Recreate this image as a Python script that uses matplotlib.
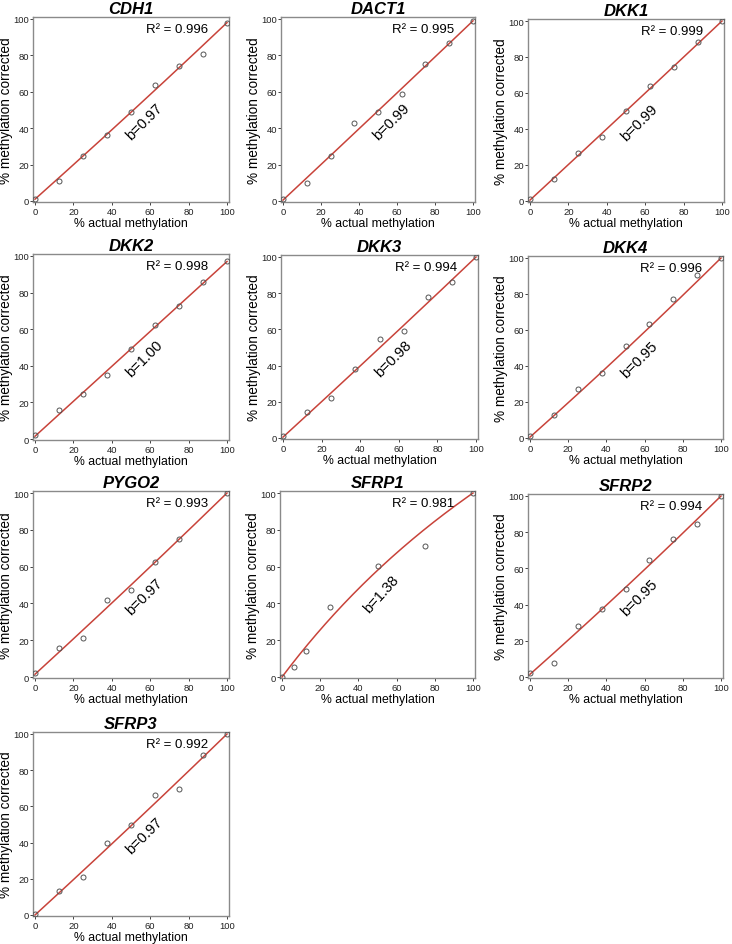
import numpy as np
import matplotlib
matplotlib.use("Agg")
import matplotlib.pyplot as plt

plt.rcParams['font.family'] = ['Liberation Sans', 'DejaVu Sans']

genes = ["CDH1", "DACT1", "DKK1", "DKK2", "DKK3", "DKK4", "PYGO2", "SFRP1", "SFRP2", "SFRP3"]
x_std = [0, 12.5, 25, 37.5, 50, 62.5, 75, 87.5, 100]
x_pygo2 = [0, 12.5, 25, 37.5, 50, 62.5, 75, 100]
x_sfrp1 = [0, 6.25, 12.5, 25, 50, 75, 100]

cdh1 = [1, 11, 25, 36, 49, 64, 74, 81, 98]
dact1 = [1, 10, 24.5, 43, 49, 59, 75.5, 87, 99]
dkk1 = [1, 12.5, 26.5, 35.5, 50, 64, 74.5, 88.5, 100]
dkk2 = [2, 16, 24.5, 35, 49, 62.5, 72.5, 86, 97]
dkk3 = [1, 14.5, 22, 38, 54.5, 59, 78, 86, 100]
dkk4 = [1, 13, 27, 36, 51, 63.5, 77.5, 90.5, 100]
pygo2 = [2, 16, 21, 42, 47.5, 62.5, 75, 100]
sfrp1 = [0, 5.5, 14, 38, 60.5, 71, 100]
sfrp2 = [2, 8, 28, 37.5, 48.5, 64.5, 76.5, 84.5, 100]
sfrp3 = [0.5, 13, 21, 40, 50, 66.5, 69.5, 88.5, 100]

xs = [x_std, x_std, x_std, x_std, x_std, x_std, x_pygo2, x_sfrp1, x_std, x_std]
ys = [cdh1, dact1, dkk1, dkk2, dkk3, dkk4, pygo2, sfrp1, sfrp2, sfrp3]

r2 = ["0.996", "0.995", "0.999", "0.998", "0.994", "0.996", "0.993", "0.981", "0.994", "0.992"]
b_vals = [0.97, 0.99, 0.99, 1.00, 0.98, 0.95, 0.97, 1.38, 0.95, 0.97]
b_text = ["0.97", "0.99", "0.99", "1.00", "0.98", "0.95", "0.97", "1.38", "0.95", "0.97"]
line_y0 = [1, 0.5, 0.5, 1.5, 0.5, 0.5, 1.5, 0, 1.5, 0]
line_y100 = [98, 99, 100, 97, 100, 100, 100, 100, 100, 100]

# pixel boxes of data range (x0, x100, y100, y0)
boxes = [
    (35, 227, 20, 202), (283, 473, 20, 202), (530, 722, 22, 202),
    (35, 227, 257, 440), (283, 476, 258, 439), (530, 721, 259, 439),
    (35, 227, 494, 678), (282, 473, 494, 678), (530, 721, 497, 678),
    (35, 227, 735, 916),
]

W, H = 732, 945
fig = plt.figure(figsize=(W / 100, H / 100), dpi=100)

xlo, xhi = -0.8, 100.8
ylo, yhi = -0.8, 101.2
red = '#c8433a'

for i, g in enumerate(genes):
    x0, x100, yt, yb = boxes[i]
    sx = (x100 - x0) / 100.0
    sy = (yb - yt) / 100.0
    left = x0 + xlo * sx
    right = x0 + xhi * sx
    bottom = yb - ylo * sy
    top = yb - yhi * sy
    ax = fig.add_axes([left / W, 1 - bottom / H, (right - left) / W, (bottom - top) / H])
    xx = np.linspace(0, 100, 200)
    b = b_vals[i]
    f = 100 * b * xx / (b * xx + 100 - xx)
    yy = line_y0[i] + (line_y100[i] - line_y0[i]) * f / 100
    ax.plot(xx, yy, color=red, lw=1.1, zorder=2)
    ax.plot(xs[i], ys[i], 'o', ms=3.6, mfc='none', mec='#555555', mew=0.7, zorder=3)
    ax.set_xlim(xlo, xhi)
    ax.set_ylim(ylo, yhi)
    ax.set_xticks([0, 20, 40, 60, 80, 100])
    ax.set_yticks([0, 20, 40, 60, 80, 100])
    ax.tick_params(labelsize=6.8, length=2, width=0.6, pad=1, colors='#222222')
    for sp in ax.spines.values():
        sp.set_color('#8a8a8a')
        sp.set_linewidth(1.0)
    ax.set_title(g, fontsize=12, fontweight='bold', style='italic', pad=3)
    ax.set_xlabel('% actual methylation', fontsize=8.8, labelpad=1)
    ax.set_ylabel('% methylation corrected', fontsize=9.8, labelpad=0.5)
    ax.text(90, 94.5, 'R² = ' + r2[i], ha='right', va='center', fontsize=9.5)
    if b < 1.2:
        ax.text(57, 44, 'b=' + b_text[i], rotation=45, ha='center', va='center',
                rotation_mode='anchor', fontsize=10.5)
    else:
        ax.text(52, 45.5, 'b=' + b_text[i], rotation=48, ha='center', va='center',
                rotation_mode='anchor', fontsize=10.5)

fig.savefig('out.png', dpi=100)
